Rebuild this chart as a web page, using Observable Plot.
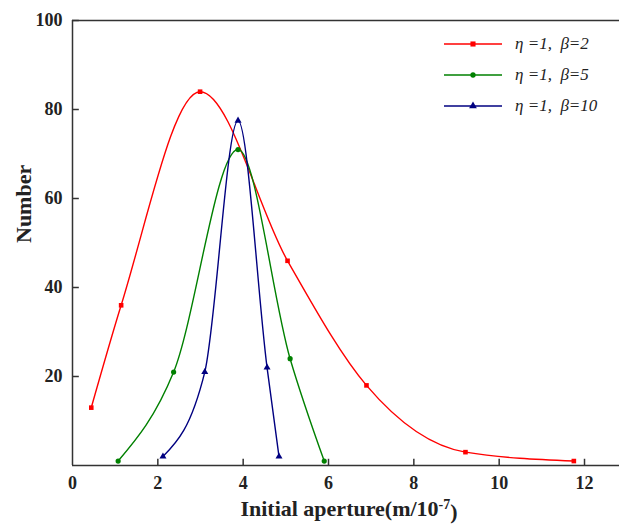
<!DOCTYPE html>
<html><head><meta charset="utf-8">
<script src="https://cdn.jsdelivr.net/npm/d3@7"></script>
<script src="https://cdn.jsdelivr.net/npm/@observablehq/plot@0.6"></script>
<style>
body{margin:0;background:#fff;}
#wrap{position:relative;width:619px;height:531px;}
.legend{position:absolute;left:444px;top:28px;font-family:"Liberation Serif","DejaVu Serif",serif;font-style:italic;font-size:17px;color:#222;}
.row{height:31px;display:flex;align-items:center;white-space:pre;}
.row svg{margin-right:13px;}
</style></head><body><div id="wrap"></div>
<script>
const xTicks = [0, 2, 4, 6, 8, 10, 12];
const yTicks = [20, 40, 60, 80, 100];
const seriesNames = ["η =1,  β=2", "η =1,  β=5", "η =1,  β=10"];
const colors = ["#ff0000", "#008000", "#000080"];
const symbols = ["square", "circle", "triangle"];

const xRed = [0.44, 1.14, 2.99, 5.04, 6.89, 9.21, 11.75];
const yRed = [13, 36, 84, 46, 18, 3, 1];
const xGreen = [1.07, 2.37, 3.88, 5.1, 5.9];
const yGreen = [1, 21, 71, 24, 1];
const xBlue = [2.12, 3.1, 3.88, 4.56, 4.84];
const yBlue = [2, 21, 77.5, 22, 2];

const xLabelMain = "Initial aperture(m/10";
const xLabelSup = "-7";
const xLabelEnd = ")";
const yLabel = "Number";

const seriesX = [xRed, xGreen, xBlue];
const seriesY = [yRed, yGreen, yBlue];
const data = [];
seriesNames.forEach((s, i) => seriesX[i].forEach((x, j) => data.push({s, x, y: seriesY[i][j]})));

const serif = "'Liberation Serif', 'DejaVu Serif', serif";
const axisColor = "#333";
const plot = Plot.plot({
  width: 619, height: 531,
  marginLeft: 72, marginRight: 0, marginTop: 20, marginBottom: 66,
  x: {domain: [0, 12.82], label: null},
  y: {domain: [0, 100], label: null},
  color: {domain: seriesNames, range: colors},
  symbol: {domain: seriesNames, range: symbols},
  style: {fontFamily: serif, fontWeight: "bold", fontSize: "18px", color: "#222", background: "white"},
  marks: [
    Plot.axisX(xTicks, {tickSize: 0, tickPadding: 11, fontFamily: serif, fontWeight: "bold", fontSize: 18}),
    Plot.axisY(yTicks, {tickSize: 0, tickPadding: 10, fontFamily: serif, fontWeight: "bold", fontSize: 18}),
    Plot.ruleX(xTicks.filter(d => d > 0), {y1: 0, y2: 1.4, stroke: axisColor, strokeWidth: 1.5}),
    Plot.ruleY(yTicks, {x1: 0, x2: 0.16, stroke: axisColor, strokeWidth: 1.5}),
    Plot.ruleY([0], {stroke: axisColor, strokeWidth: 1.5}),
    Plot.ruleY([100], {stroke: axisColor, strokeWidth: 1.5}),
    Plot.ruleX([0], {stroke: axisColor, strokeWidth: 1.5}),
    Plot.line(data, {x: "x", y: "y", z: "s", stroke: "s", curve: "monotone-x", strokeWidth: 1.4}),
    Plot.dot(data, {x: "x", y: "y", symbol: "s", fill: "s", stroke: "none", r: 2.6}),
    Plot.text([xLabelMain + xLabelSup + xLabelEnd], {frameAnchor: "bottom", dy: 50, dx: 3, fontSize: 22, fontFamily: serif, fontWeight: "bold", fill: "#222", className: "xlabel"}),
    Plot.text([yLabel], {frameAnchor: "left", dx: -49, rotate: -90, fontSize: 22, fontFamily: serif, fontWeight: "bold", fill: "#222"})
  ]
});
// superscript for the exponent in the x label
d3.select(plot).selectAll(".xlabel text").each(function () {
  const t = d3.select(this);
  t.text(null);
  t.append("tspan").text(xLabelMain);
  t.append("tspan").attr("dy", "-0.45em").attr("font-size", "14px").text(xLabelSup);
  t.append("tspan").attr("dy", "0.45em").text(xLabelEnd);
});
const wrap = document.getElementById("wrap");
wrap.appendChild(plot);

const legend = document.createElement("div");
legend.className = "legend";
seriesNames.forEach((s, i) => {
  const row = document.createElement("div");
  row.className = "row";
  const sym = d3.symbol(i === 0 ? d3.symbolSquare : i === 1 ? d3.symbolCircle : d3.symbolTriangle, i === 1 ? 22 : 26)();
  row.innerHTML = `<svg width="58" height="10"><line x1="0" x2="58" y1="5" y2="5" stroke="${colors[i]}" stroke-width="1.5"/><path d="${sym}" transform="translate(29,5)" fill="${colors[i]}"/></svg>`;
  const t = document.createElement("span");
  t.textContent = s;
  row.appendChild(t);
  legend.appendChild(row);
});
wrap.appendChild(legend);
</script></body></html>
